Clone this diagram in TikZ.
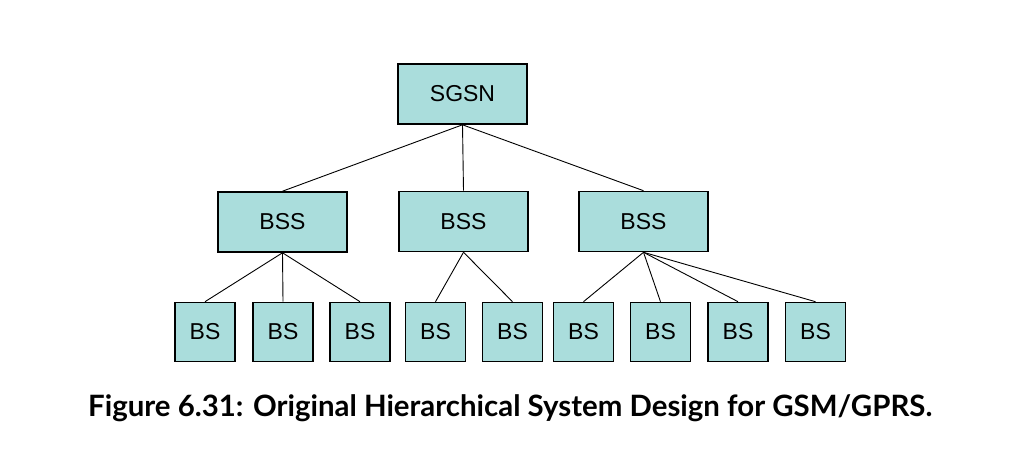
\documentclass[tikz,border=0pt]{standalone}
\usepackage{fontspec}
\setmainfont{Liberation Sans}
\newfontfamily\capfont{Lato}
\definecolor{boxfill}{HTML}{AADDDC}
\begin{document}
\begin{tikzpicture}[x=1pt,y=-1pt,
  box/.style={draw=black,line width=1.6pt,fill=boxfill,inner sep=0pt,font=\fontsize{23}{26}\selectfont},
  link/.style={draw=black,line width=0.9pt}]
\useasboundingbox (0,0) rectangle (1012,454);
% top
\node[box,minimum width=129pt,minimum height=60pt] (sgsn) at (462.5,94) {SGSN};
% middle
\node[box,minimum width=129pt,minimum height=60pt] (bss1) at (282.5,222) {BSS};
\node[box,minimum width=129pt,minimum height=60pt] (bss2) at (463.5,221.5) {BSS};
\node[box,minimum width=129pt,minimum height=60pt] (bss3) at (643.5,221.5) {BSS};
% bottom
\foreach \i/\x in {1/205,2/283,3/360,4/435.5,5/512.5,6/583.5,7/660.5,8/738,9/815.5}{
  \node[box,minimum width=60pt,minimum height=59pt] (bs\i) at (\x,332) {BS};
}
\draw[link] (sgsn.south) -- (bss1.north);
\draw[link] (sgsn.south) -- (bss2.north);
\draw[link] (sgsn.south) -- (bss3.north);
\foreach \i in {1,2,3}{\draw[link] (bss1.south) -- (bs\i.north);}
\foreach \i in {4,5}{\draw[link] (bss2.south) -- (bs\i.north);}
\foreach \i in {6,7,8,9}{\draw[link] (bss3.south) -- (bs\i.north);}
\node[anchor=west,inner sep=0pt] (cap) at (88,408) {\resizebox{844pt}{!}{\capfont\bfseries Figure 6.31: Original Hierarchical System Design for GSM/GPRS.}};
\end{tikzpicture}
\end{document}
